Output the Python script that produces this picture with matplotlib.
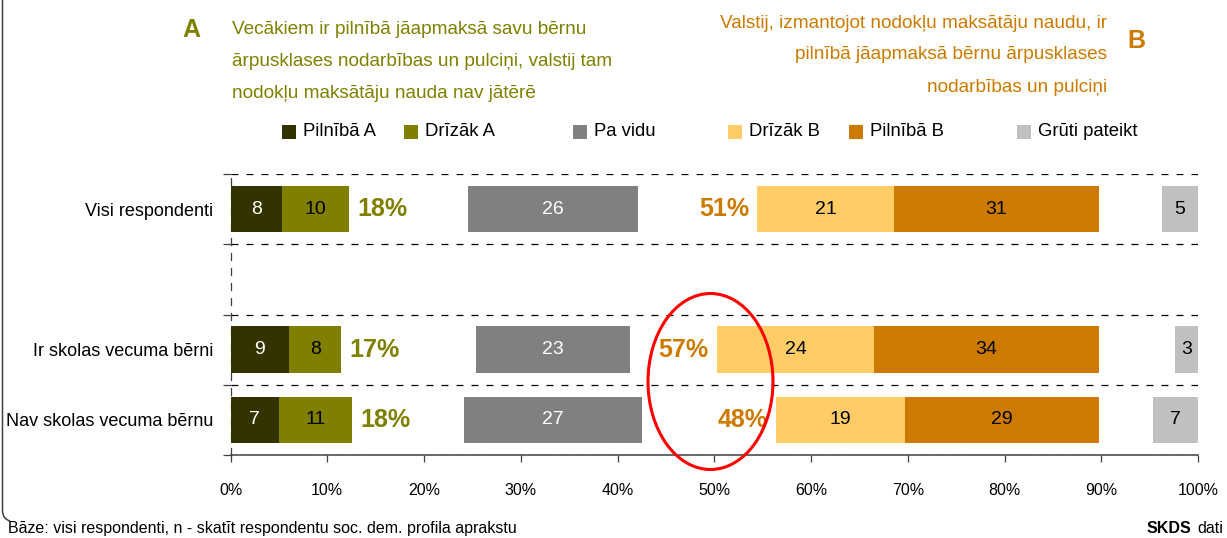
import matplotlib
matplotlib.use("Agg")
import matplotlib.pyplot as plt
from matplotlib.patches import Ellipse, Rectangle, PathPatch
from matplotlib.path import Path

plt.rcParams['font.family'] = ['Liberation Sans', 'DejaVu Sans']
plt.rcParams['lines.scale_dashes'] = False

# ---------------- data ----------------
groups = ["Visi respondenti", "Ir skolas vecuma bērni", "Nav skolas vecuma bērnu"]
pilniba_a = [7.7, 8.8, 7.2]
drizak_a = [10.1, 7.8, 11.0]
pa_vidu = [25.6, 23.2, 26.8]
drizak_b = [20.6, 23.6, 19.4]
pilniba_b = [30.6, 33.6, 29.0]
gruti = [5.4, 3.4, 6.7]

series_names = ["Pilnībā A", "Drīzāk A", "Pa vidu", "Drīzāk B", "Pilnībā B", "Grūti pateikt"]
x_tick_pct = [0, 10, 20, 30, 40, 50, 60, 70, 80, 90, 100]
x_tick_labels = [f"{t}%" for t in x_tick_pct]

title_a = ["Vecākiem ir pilnībā jāapmaksā savu bērnu",
           "ārpusklases nodarbības un pulciņi, valstij tam",
           "nodokļu maksātāju nauda nav jātērē"]
title_b = ["Valstij, izmantojot nodokļu maksātāju naudu, ir",
           "pilnībā jāapmaksā bērnu ārpusklases",
           "nodarbības un pulciņi"]
footer_left = "Bāze: visi respondenti, n - skatīt respondentu soc. dem. profila aprakstu"

# ---------------- styles / layout ----------------
C_A1, C_A2, C_MID = "#333300", "#808000", "#808080"
C_B1, C_B2, C_HARD = "#FFCC66", "#CC7A00", "#C0C0C0"
series_colors = [C_A1, C_A2, C_MID, C_B1, C_B2, C_HARD]
C_TXT_A, C_TXT_B = "#808000", "#CC7A00"

W, H = 1227, 538
fig = plt.figure(figsize=(W / 100, H / 100), dpi=100)
fig.patch.set_facecolor("white")


def fx(px):
    return px / W


def fy(py):
    return 1 - py / H


ax = fig.add_axes([fx(230.5), fy(455), (1198 - 230.5) / W, (455 - 174) / H])

ROW_Y = [0, 2, 3]          # slot 1 is an empty spacer row
ROW_TOTAL = 145.0          # row length incl. invisible spacers (value units)
MID_CENTER = ROW_TOTAL / 3
B_END = 130.1
BAR_H = 0.665
PCT_FONT = ["Liberation Sans Narrow", "Liberation Sans"]

for i, y in enumerate(ROW_Y):
    a1, a2, m = pilniba_a[i], drizak_a[i], pa_vidu[i]
    b1, b2, g = drizak_b[i], pilniba_b[i], gruti[i]
    m_left = MID_CENTER - m / 2
    b2_left = B_END - b2
    b1_left = b2_left - b1
    g_left = ROW_TOTAL - g
    segs = [(0, a1, C_A1, "white"), (a1, a2, C_A2, "black"),
            (m_left, m, C_MID, "white"), (b1_left, b1, C_B1, "black"),
            (b2_left, b2, C_B2, "black"), (g_left, g, C_HARD, "black")]
    for left, w, col, tcol in segs:
        ax.barh(y, w, left=left, height=BAR_H, color=col, edgecolor="none", zorder=3)
        ax.text(left + w / 2, y, f"{w:.0f}", ha="center", va="center",
                fontsize=14, color=tcol, zorder=4)
    ax.text(a1 + a2 + 1.2, y, f"{a1 + a2:.0f}%", ha="left", va="center",
            fontsize=18, fontweight="bold", color=C_TXT_A,
            family=PCT_FONT, zorder=4)
    ax.text(b1_left - 1.2, y, f"{b1 + b2:.0f}%", ha="right", va="center",
            fontsize=18, fontweight="bold", color=C_TXT_B,
            family=PCT_FONT, zorder=4)

ax.set_xlim(0, ROW_TOTAL)
ax.set_ylim(3.5, -0.5)

# x axis
ax.set_xticks([ROW_TOTAL * t / 100 for t in x_tick_pct])
ax.set_xticklabels(x_tick_labels)
ax.tick_params(axis="x", length=5, width=0.9, color="#404040", pad=15,
               labelsize=11.5, labelcolor="black")

# y axis: boundaries as major ticks (with dashed grid), labels as minor ticks
ax.set_yticks([-0.5, 0.5, 1.5, 2.5, 3.5])
ax.set_yticklabels([])
ax.set_yticks(ROW_Y, minor=True)
ax.set_yticklabels(groups, minor=True)
ax.tick_params(axis="y", which="major", length=6, width=0.9, color="#404040")
ax.tick_params(axis="y", which="minor", length=0, pad=12.5, labelsize=13)
ax.yaxis.grid(True, which="major", linestyle=(0, (5, 5.8)), color="black", lw=0.9)
ax.set_axisbelow(True)

for s in ["top", "right"]:
    ax.spines[s].set_visible(False)
ax.spines["left"].set_linestyle((0, (5, 5.8)))
ax.spines["left"].set_color("#404040")
ax.spines["left"].set_linewidth(0.9)
ax.spines["bottom"].set_color("#404040")
ax.spines["bottom"].set_linewidth(1.1)
ax.patch.set_alpha(0)

# ---------------- titles ----------------
fig.text(fx(191), fy(30), "A", ha="center", va="center", fontsize=18,
         fontweight="bold", color=C_TXT_A)
for k, line in enumerate(title_a):
    fig.text(fx(232), fy(34.5 + 32 * k), line, ha="left", va="baseline",
             fontsize=13.7, color=C_TXT_A)
for k, line in enumerate(title_b):
    fig.text(fx(1107), fy(27.5 + 32 * k), line, ha="right", va="baseline",
             fontsize=13.7, color=C_TXT_B)
fig.text(fx(1136.5), fy(41.5), "B", ha="center", va="center", fontsize=18,
         fontweight="bold", color=C_TXT_B)

# ---------------- legend ----------------
leg_text_x = [303, 425, 594, 749, 869.5, 1037.5]
for name, col, tx in zip(series_names, series_colors, leg_text_x):
    fig.patches.append(Rectangle((fx(tx - 21), fy(139)), 14 / W, 14 / H,
                                 transform=fig.transFigure, facecolor=col,
                                 edgecolor="none"))
    fig.text(fx(tx), fy(132), name, ha="left", va="center", fontsize=13.3,
             color="black")

# ---------------- annotations ----------------
fig.patches.append(Ellipse((fx(710.5), fy(381.5)), 125 / W, 176 / H,
                           transform=fig.transFigure, fill=False,
                           edgecolor="#FF0000", lw=2.2, zorder=10))

border = Path([(fx(2.5), fy(-5)), (fx(2.5), fy(510)), (fx(2.5), fy(519)),
               (fx(10), fy(521))],
              [Path.MOVETO, Path.LINETO, Path.CURVE3, Path.CURVE3])
fig.patches.append(PathPatch(border, transform=fig.transFigure, fill=False,
                             edgecolor="#404040", lw=1.1))

fig.text(fx(8), fy(533), footer_left, ha="left", va="baseline", fontsize=11.5,
         color="black")
fig.text(fx(1147), fy(533), "SKDS", ha="left", va="baseline", fontsize=11.5,
         fontweight="bold", color="black")
fig.text(fx(1197), fy(533), "dati", ha="left", va="baseline", fontsize=11.5,
         color="black")

fig.savefig("out.png", dpi=100, facecolor="white")
